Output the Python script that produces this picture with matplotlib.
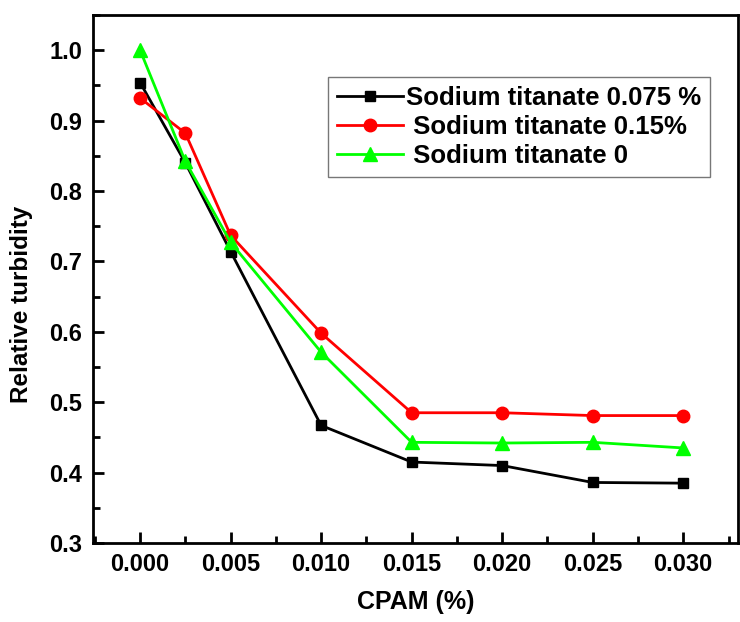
import matplotlib.pyplot as plt
from matplotlib.ticker import MultipleLocator

plt.rcParams['font.family'] = ['Liberation Sans', 'DejaVu Sans']
plt.rcParams['font.weight'] = 'bold'

# === Data ===
cpam = [0.0, 0.0025, 0.005, 0.010, 0.015, 0.020, 0.025, 0.030]
st_0075 = [0.954, 0.840, 0.714, 0.467, 0.415, 0.410, 0.386, 0.385]
st_015 = [0.932, 0.882, 0.737, 0.598, 0.485, 0.485, 0.481, 0.481]
st_0 = [1.000, 0.842, 0.727, 0.571, 0.443, 0.442, 0.443, 0.435]
labels = ["Sodium titanate 0.075 %", " Sodium titanate 0.15%", " Sodium titanate 0"]

# === Plot ===
fig = plt.figure(figsize=(7.4, 6.22), dpi=100)
ax = fig.add_axes([0.1257, 0.127, 0.871, 0.849])

ax.plot(cpam, st_0075, '-s', color='black', lw=2, ms=7.5, label=labels[0])
ax.plot(cpam, st_015, '-o', color='#ff0000', lw=2, ms=9, label=labels[1])
ax.plot(cpam, st_0, '-^', color='#00ff00', lw=2, ms=10, label=labels[2])

ax.set_xlim(-0.0026, 0.0330)
ax.set_ylim(0.3, 1.05)
ax.xaxis.set_major_locator(MultipleLocator(0.005))
ax.xaxis.set_minor_locator(MultipleLocator(0.0025))
ax.yaxis.set_major_locator(MultipleLocator(0.1))
ax.yaxis.set_minor_locator(MultipleLocator(0.05))
ax.xaxis.set_major_formatter(plt.FuncFormatter(lambda v, p: f"{v:.3f}"))
ax.yaxis.set_major_formatter(plt.FuncFormatter(lambda v, p: f"{v:.1f}"))

ax.tick_params(which='both', direction='in', width=2, labelsize=17)
ax.tick_params(which='major', length=8)
ax.tick_params(which='minor', length=5)
ax.tick_params(axis='x', pad=7)
ax.tick_params(axis='y', pad=8)
for s in ax.spines.values():
    s.set_linewidth(2)

ax.set_xlabel("CPAM (%)", fontsize=18, fontweight='bold', labelpad=10)
ax.set_ylabel("Relative turbidity", fontsize=17.5, fontweight='bold')
ax.yaxis.set_label_coords(-0.093, 0.451)

leg = ax.legend(loc='upper left', bbox_to_anchor=(0.364, 0.883), fontsize=18.5,
                frameon=True, fancybox=False, edgecolor='#555555', borderaxespad=0,
                handlelength=2.6, handletextpad=0.1, borderpad=0.35, labelspacing=0.2)
leg.get_frame().set_linewidth(1)

fig.savefig("out.png", dpi=100)
